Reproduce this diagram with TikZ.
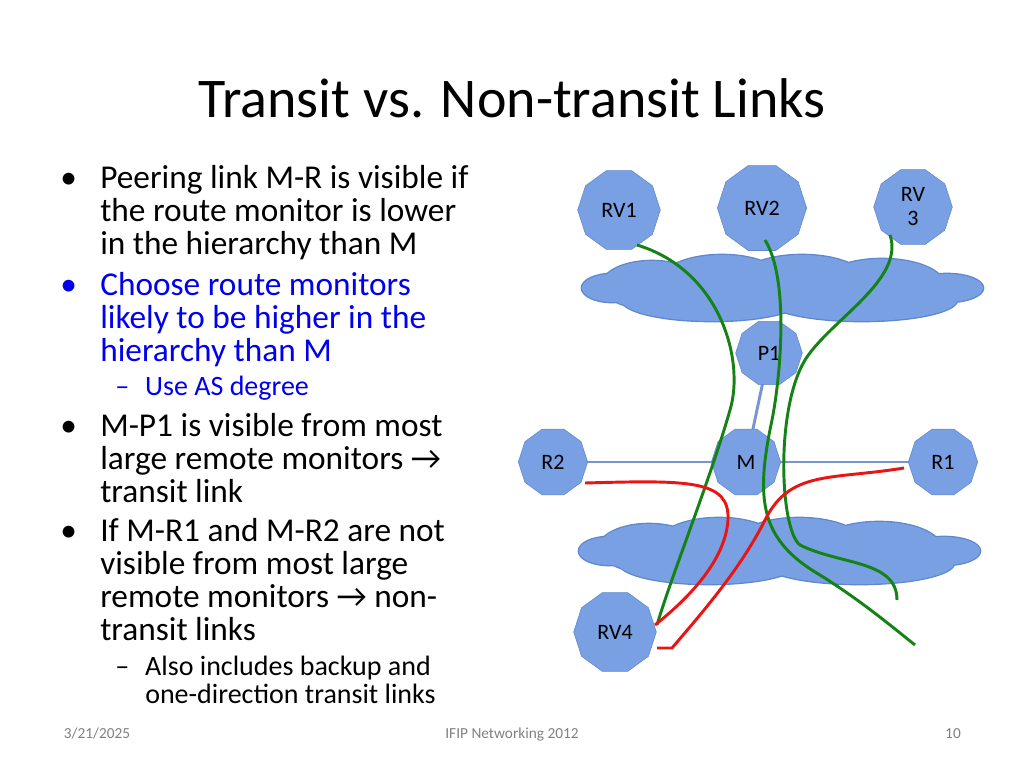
\documentclass[tikz,border=0pt]{standalone}
\usepackage{fontspec}
\setmainfont{Carlito}
\usetikzlibrary{shapes.geometric}
\definecolor{nodeblue}{RGB}{120,160,226}
\definecolor{nodeedge}{RGB}{95,135,205}
\definecolor{linkblue}{RGB}{120,150,205}
\definecolor{pathgreen}{RGB}{20,130,20}
\definecolor{pathred}{RGB}{235,20,20}
\definecolor{textblue}{RGB}{0,0,235}
\newcommand\puffs{(0,0) ellipse [x radius=30,y radius=14] (40,-3) ellipse [x radius=50,y radius=24] (110,-6) ellipse [x radius=62,y radius=27] (190,-5) ellipse [x radius=66,y radius=28] (270,-3) ellipse [x radius=62,y radius=26] (335,0) ellipse [x radius=36,y radius=14] (100,12) ellipse [x radius=90,y radius=21] (250,12) ellipse [x radius=95,y radius=21]}
\tikzset{router/.style={regular polygon,regular polygon sides=10,fill=nodeblue,draw=nodeedge,inner sep=0pt,font=\fontsize{16.5}{18}\selectfont,align=center},
  bulletline/.style={anchor=base west,inner sep=0pt,font=\fontsize{25}{30}\selectfont},
  subline/.style={anchor=base west,inner sep=0pt,font=\fontsize{21}{25}\selectfont},
  footer/.style={anchor=base,font=\fontsize{11.5}{12}\selectfont,text=gray}}
\begin{document}
\begin{tikzpicture}[x=0.75pt,y=-0.75pt]
\useasboundingbox (0,0) rectangle (1024,768);
% title
\node[font=\fontsize{42}{46}\selectfont] (title) at (512,98) {Transit vs. Non-transit Links};
% bullets
\foreach \by/\bc in {188/black,295/textblue,436/black,541/black}
  \node[bulletline,text=\bc] (b\by) at (60,\by) {•};
\foreach \ly/\lt in {188/Peering link M-R is visible if,221/the route monitor is lower,254/in the hierarchy than M,
  436/M-P1 is visible from most,469/large remote monitors \textrightarrow,502/transit link,
  541/If M-R1 and M-R2 are not,574/visible from most large,607/remote monitors \textrightarrow{} non-,640/transit links}
  \node[bulletline] (t\ly) at (100,\ly) {\lt};
\foreach \ly/\lt in {295/Choose route monitors,328/likely to be higher in the,361/hierarchy than M}
  \node[bulletline,text=textblue] (t\ly) at (100,\ly) {\lt};
\node[subline,text=textblue] (s1) at (115,395) {–\hspace{12pt}Use AS degree};
\node[subline] (s2) at (115,675) {–\hspace{12pt}Also includes backup and};
\node[subline] (s3) at (145,703) {one-direction transit links};
% footer
\node[footer] (date) at (97,738) {3/21/2025};
\node[footer] (conf) at (512,738) {IFIP Networking 2012};
\node[footer] (page) at (953,738) {10};
% clouds
\foreach \cy/\cx in {288/612,551/609}{
  \begin{scope}[shift={(\cx,\cy)}]
    \draw[nodeedge,line width=2pt] \puffs;
    \fill[nodeblue] \puffs;
  \end{scope}}
% links
\draw[linkblue,line width=2.2pt] (553,462) -- (943,462);
\draw[linkblue,line width=2.2pt] (769,353) -- (746,462);
% routers
\node[router,minimum size=62pt] (rv1) at (619,210) {RV1};
\node[router,minimum size=67pt] (rv2) at (762,208) {RV2};
\node[router,minimum size=59pt] (rv3) at (913,207) {RV\\3};
\node[router,minimum size=50pt] (p1) at (769,353) {P1};
\node[router,minimum size=52pt] (m) at (746,462) {M};
\node[router,minimum size=52pt] (r2) at (553,462) {R2};
\node[router,minimum size=52pt] (r1) at (943,462) {R1};
\node[router,minimum size=62pt] (rv4) at (615,632) {RV4};
% paths
\begin{scope}[line width=2.2pt]
\draw[pathgreen] (637,245) .. controls (720,270) and (745,360) .. (730,410) .. controls (710,480) and (670,580) .. (657,625);
\draw[pathgreen] (765,240) .. controls (790,280) and (780,380) .. (772,420) .. controls (755,500) and (760,540) .. (820,575) .. controls (860,600) and (890,625) .. (915,645);
\draw[pathgreen] (890,235) .. controls (905,280) and (830,320) .. (805,360) .. controls (775,410) and (780,530) .. (800,545) .. controls (840,565) and (897,560) .. (897,600);
\draw[pathred] (585,483) .. controls (690,480) and (730,480) .. (728,520) .. controls (725,565) and (680,605) .. (655,625);
\draw[pathred] (904,468) .. controls (830,480) and (790,470) .. (765,520) .. controls (740,570) and (700,615) .. (672,648) -- (657,648);
\end{scope}
\end{tikzpicture}
\end{document}
